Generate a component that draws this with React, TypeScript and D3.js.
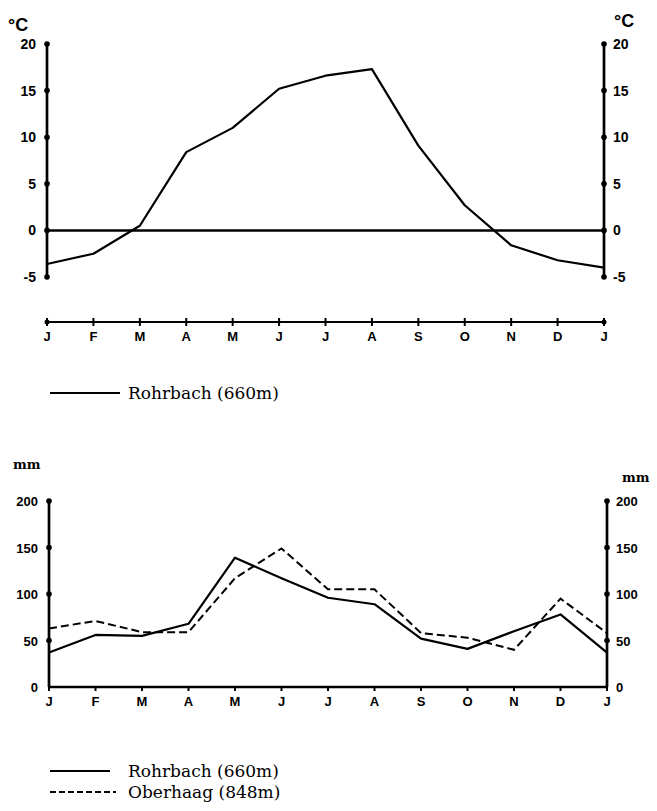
import * as d3 from "d3";
import { useEffect, useRef } from "react";

const months = ["J", "F", "M", "A", "M", "J", "J", "A", "S", "O", "N", "D", "J"];
const tempTicks = [20, 15, 10, 5, 0, -5];
const precTicks = [200, 150, 100, 50, 0];
// mean monthly temperature, Jan..Jan
const rohrbachTemp = [-3.6, -2.5, 0.5, 8.4, 11.0, 15.2, 16.6, 17.3, 9.1, 2.7, -1.6, -3.2, -4.0];
// monthly precipitation, Jan..Jan
const rohrbachPrec = [37, 56, 55, 68, 139, 117, 96, 89, 52, 41, 60, 78, 37];
const oberhaagPrec = [63, 71, 59, 59, 117, 149, 105, 105, 58, 53, 40, 95, 58];

const tickFont = "'Liberation Sans', Arial, sans-serif";
const legendFont = "'DejaVu Serif', serif";

const App = () => {
  const svgRef = useRef<SVGSVGElement>(null);

  useEffect(() => {
    const svg = d3.select(svgRef.current);
    svg.selectAll("*").remove();

    // ---------- temperature chart ----------
    const xT = d3.scaleLinear().domain([0, 12]).range([47, 604]);
    const yT = d3.scaleLinear().domain([-5, 20]).range([277, 44]);
    const top = svg.append("g");

    [xT(0), xT(12)].forEach((ax, side) => {
      top.append("line")
        .attr("x1", ax).attr("x2", ax)
        .attr("y1", yT(20)).attr("y2", yT(-5))
        .attr("stroke", "#000").attr("stroke-width", 2.7);
      top.selectAll(null).data(tempTicks).join("circle")
        .attr("cx", ax).attr("cy", (d) => yT(d)).attr("r", 2.8);
      top.selectAll(null).data(tempTicks).join("text")
        .attr("x", side === 0 ? ax - 11 : ax + 9)
        .attr("y", (d) => yT(d) + 5)
        .attr("text-anchor", side === 0 ? "end" : "start")
        .attr("font-family", tickFont).attr("font-weight", "bold")
        .attr("font-size", 14)
        .text((d) => d);
    });
    top.append("text").attr("x", 8).attr("y", 31)
      .attr("font-family", tickFont).attr("font-weight", "bold").attr("font-size", 18)
      .text("°C");
    top.append("text").attr("x", 614).attr("y", 27)
      .attr("font-family", tickFont).attr("font-weight", "bold").attr("font-size", 18)
      .text("°C");

    // zero line
    top.append("line")
      .attr("x1", xT(0)).attr("x2", xT(12))
      .attr("y1", yT(0)).attr("y2", yT(0))
      .attr("stroke", "#000").attr("stroke-width", 2.5);

    const lineT = d3.line<number>().x((d, i) => xT(i)).y((d) => yT(d));
    top.append("path")
      .datum(rohrbachTemp)
      .attr("d", lineT)
      .attr("fill", "none").attr("stroke", "#000").attr("stroke-width", 2.2)
      .attr("stroke-linejoin", "round");

    // month axis
    const mY = 322;
    top.append("line")
      .attr("x1", xT(0)).attr("x2", xT(12)).attr("y1", mY).attr("y2", mY)
      .attr("stroke", "#000").attr("stroke-width", 2);
    top.selectAll(null).data(months).join("line")
      .attr("x1", (d, i) => xT(i)).attr("x2", (d, i) => xT(i))
      .attr("y1", mY - 4).attr("y2", mY + 4)
      .attr("stroke", "#000").attr("stroke-width", 2);
    top.selectAll(null).data([0, 12]).join("circle")
      .attr("cx", (d) => xT(d)).attr("cy", mY).attr("r", 2.5);
    top.selectAll(null).data(months).join("text")
      .attr("x", (d, i) => xT(i)).attr("y", mY + 19)
      .attr("text-anchor", "middle")
      .attr("font-family", tickFont).attr("font-weight", "bold").attr("font-size", 13)
      .text((d) => d);

    // legend
    top.append("line").attr("x1", 50).attr("x2", 120).attr("y1", 393).attr("y2", 393)
      .attr("stroke", "#000").attr("stroke-width", 2);
    top.append("text").attr("x", 128).attr("y", 399)
      .attr("font-family", legendFont).attr("font-size", 17)
      .text("Rohrbach (660m)");

    // ---------- precipitation chart ----------
    const xP = d3.scaleLinear().domain([0, 12]).range([49, 607]);
    const yP = d3.scaleLinear().domain([0, 200]).range([687, 501]);
    const bot = svg.append("g");

    [xP(0), xP(12)].forEach((ax, side) => {
      bot.append("line")
        .attr("x1", ax).attr("x2", ax)
        .attr("y1", yP(200)).attr("y2", yP(0))
        .attr("stroke", "#000").attr("stroke-width", 2.7);
      bot.selectAll(null).data(precTicks.filter((d) => d > 0)).join("circle")
        .attr("cx", ax).attr("cy", (d) => yP(d)).attr("r", 2.8);
      bot.selectAll(null).data(precTicks).join("text")
        .attr("x", side === 0 ? ax - 11 : ax + 9)
        .attr("y", (d) => yP(d) + 5)
        .attr("text-anchor", side === 0 ? "end" : "start")
        .attr("font-family", tickFont).attr("font-weight", "bold")
        .attr("font-size", 13)
        .text((d) => d);
    });
    bot.append("text").attr("x", 13).attr("y", 469)
      .attr("font-family", legendFont).attr("font-weight", "bold").attr("font-size", 13)
      .text("mm");
    bot.append("text").attr("x", 622).attr("y", 482)
      .attr("font-family", legendFont).attr("font-weight", "bold").attr("font-size", 13)
      .text("mm");

    // month axis
    bot.append("line")
      .attr("x1", xP(0)).attr("x2", xP(12)).attr("y1", yP(0)).attr("y2", yP(0))
      .attr("stroke", "#000").attr("stroke-width", 2.5);
    bot.selectAll(null).data(months).join("line")
      .attr("x1", (d, i) => xP(i)).attr("x2", (d, i) => xP(i))
      .attr("y1", yP(0) - 1).attr("y2", yP(0) + 4)
      .attr("stroke", "#000").attr("stroke-width", 2);
    bot.selectAll(null).data(months).join("text")
      .attr("x", (d, i) => xP(i)).attr("y", yP(0) + 19)
      .attr("text-anchor", "middle")
      .attr("font-family", tickFont).attr("font-weight", "bold").attr("font-size", 13)
      .text((d) => d);

    const lineP = d3.line<number>().x((d, i) => xP(i)).y((d) => yP(d));
    bot.append("path")
      .datum(oberhaagPrec)
      .attr("d", lineP)
      .attr("fill", "none").attr("stroke", "#000").attr("stroke-width", 2)
      .attr("stroke-dasharray", "8,4");
    bot.append("path")
      .datum(rohrbachPrec)
      .attr("d", lineP)
      .attr("fill", "none").attr("stroke", "#000").attr("stroke-width", 2.2)
      .attr("stroke-linejoin", "round");

    // legend
    bot.append("line").attr("x1", 50).attr("x2", 110).attr("y1", 771).attr("y2", 771)
      .attr("stroke", "#000").attr("stroke-width", 2);
    bot.append("text").attr("x", 128).attr("y", 777)
      .attr("font-family", legendFont).attr("font-size", 17)
      .text("Rohrbach (660m)");
    bot.append("line").attr("x1", 50).attr("x2", 116).attr("y1", 792).attr("y2", 792)
      .attr("stroke", "#000").attr("stroke-width", 2)
      .attr("stroke-dasharray", "6,3");
    bot.append("text").attr("x", 128).attr("y", 798)
      .attr("font-family", legendFont).attr("font-size", 17)
      .text("Oberhaag (848m)");
  }, []);

  return (
    <svg
      ref={svgRef}
      width={657}
      height={811}
      style={{ position: "absolute", left: 0, top: 0, background: "#fff" }}
    />
  );
};

export default App;
